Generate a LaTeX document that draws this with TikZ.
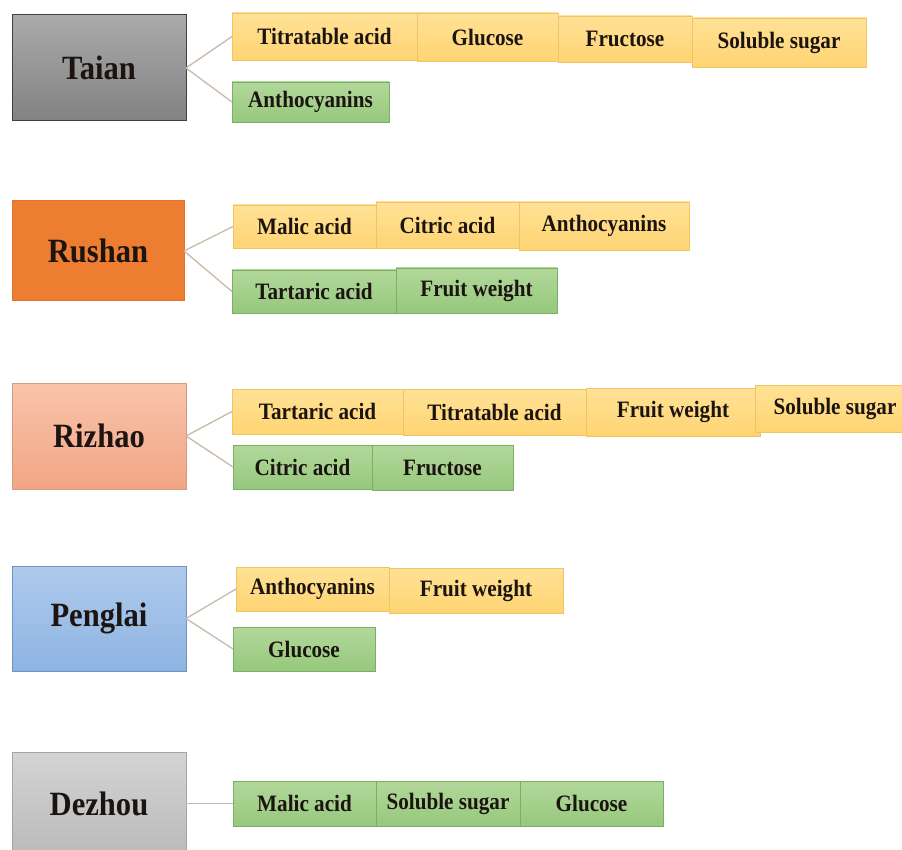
\documentclass[tikz,border=0pt]{standalone}
\usepackage{fontspec}
\setmainfont{Liberation Serif}[FakeStretch=0.9]
\definecolor{yeltop}{RGB}{255,226,150}
\definecolor{yelbot}{RGB}{255,212,115}
\definecolor{yelline}{RGB}{240,196,100}
\definecolor{grntop}{RGB}{178,216,155}
\definecolor{grnbot}{RGB}{150,200,125}
\definecolor{grnline}{RGB}{122,176,98}
\definecolor{linkc}{RGB}{200,186,168}
\definecolor{inkc}{RGB}{28,20,16}
\begin{document}
\begin{tikzpicture}[
		x=1pt, y=-1pt,
		box/.style={draw, inner sep=0pt, outer sep=0pt, anchor=north west, line width=0.8pt,
				text=inkc, font=\bfseries\fontsize{23.5}{26}\selectfont},
		city/.style={box, line width=1pt, font=\bfseries\fontsize{34}{38}\selectfont},
		yel/.style={box, draw=yelline, top color=yeltop, bottom color=yelbot},
		grn/.style={box, draw=grnline, top color=grntop, bottom color=grnbot},
		link/.style={draw=linkc, line width=1.3pt}
	]
	\useasboundingbox[fill=white] (0,0) rectangle (902,850);

	% Taian
	\node[city, draw=black!75, top color={rgb,255:red,170;green,170;blue,170}, bottom color={rgb,255:red,130;green,130;blue,130},
		minimum width=174pt, minimum height=106pt] (taian) at (12,15) {Taian};
	\node[yel, minimum width=185pt, minimum height=47pt] (ta1) at (232,13) {Titratable acid};
	\node[yel, minimum width=141pt, minimum height=48pt] (ta2) at (417,13) {Glucose};
	\node[yel, minimum width=134pt, minimum height=46pt] (ta3) at (558,16) {Fructose};
	\node[yel, minimum width=174pt, minimum height=49pt] (ta4) at (692,18) {Soluble sugar};
	\node[grn, minimum width=157pt, minimum height=40pt] (ta5) at (232,82) {Anthocyanins};
	\draw[link] (taian.east) -- (ta1.west);
	\draw[link] (taian.east) -- (ta5.west);

	% Rushan
	\node[city, draw={rgb,255:red,225;green,115;blue,45}, fill={rgb,255:red,237;green,125;blue,49},
		minimum width=172pt, minimum height=100pt] (rushan) at (12,201) {Rushan};
	\node[yel, minimum width=143pt, minimum height=43pt] (ru1) at (233,205) {Malic acid};
	\node[yel, minimum width=143pt, minimum height=46pt] (ru2) at (376,202) {Citric acid};
	\node[yel, minimum width=170pt, minimum height=48pt] (ru3) at (519,202) {Anthocyanins};
	\node[grn, minimum width=164pt, minimum height=43pt] (ru4) at (232,270) {Tartaric acid};
	\node[grn, minimum width=161pt, minimum height=45pt] (ru5) at (396,268) {Fruit weight};
	\draw[link] (rushan.east) -- (ru1.west);
	\draw[link] (rushan.east) -- (ru4.west);

	% Rizhao
	\node[city, draw={rgb,255:red,210;green,155;blue,130}, top color={rgb,255:red,248;green,196;blue,170}, bottom color={rgb,255:red,242;green,165;blue,134},
		minimum width=174pt, minimum height=106pt] (rizhao) at (12,383) {Rizhao};
	\node[yel, minimum width=171pt, minimum height=45pt] (ri1) at (232,389) {Tartaric acid};
	\node[yel, minimum width=183pt, minimum height=46pt] (ri2) at (403,389) {Titratable acid};
	\node[yel, minimum width=174pt, minimum height=48pt] (ri3) at (586,388) {Fruit weight};
	\node[yel, minimum width=160pt, minimum height=47pt] (ri4) at (755,385) {Soluble sugar};
	\node[grn, minimum width=139pt, minimum height=44pt] (ri5) at (233,445) {Citric acid};
	\node[grn, minimum width=141pt, minimum height=45pt] (ri6) at (372,445) {Fructose};
	\draw[link] (rizhao.east) -- (ri1.west);
	\draw[link] (rizhao.east) -- (ri5.west);

	% Penglai
	\node[city, draw={rgb,255:red,112;green,146;blue,196}, top color={rgb,255:red,174;green,202;blue,236}, bottom color={rgb,255:red,142;green,180;blue,226},
		minimum width=174pt, minimum height=105pt] (penglai) at (12,566) {Penglai};
	\node[yel, minimum width=153pt, minimum height=44pt] (pe1) at (236,567) {Anthocyanins};
	\node[yel, minimum width=174pt, minimum height=45pt] (pe2) at (389,568) {Fruit weight};
	\node[grn, minimum width=142pt, minimum height=44pt] (pe3) at (233,627) {Glucose};
	\draw[link] (penglai.east) -- (pe1.west);
	\draw[link] (penglai.east) -- (pe3.west);

	% Dezhou
	\node[city, draw={rgb,255:red,165;green,165;blue,165}, top color={rgb,255:red,212;green,212;blue,212}, bottom color={rgb,255:red,186;green,186;blue,186},
		minimum width=174pt, minimum height=103pt] (dezhou) at (12,752) {Dezhou};
	\node[grn, minimum width=143pt, minimum height=45pt] (de1) at (233,781) {Malic acid};
	\node[grn, minimum width=144pt, minimum height=45pt] (de2) at (376,781) {Soluble sugar};
	\node[grn, minimum width=143pt, minimum height=45pt] (de3) at (520,781) {Glucose};
	\draw[link] (dezhou.east) -- (de1.west);
\end{tikzpicture}
\end{document}
